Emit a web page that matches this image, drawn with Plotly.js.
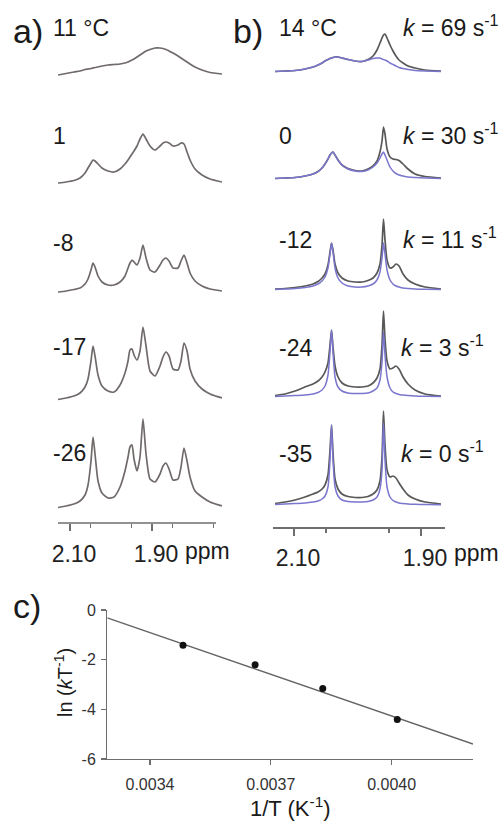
<!DOCTYPE html>
<html><head><meta charset="utf-8">
<script src="https://cdn.plot.ly/plotly-3.0.1.min.js"></script>
<style>html,body{margin:0;padding:0;background:#fff}#chart{width:500px;height:822px}</style>
</head><body><div id="chart"></div><script>
// ---------- Panel a : variable-temperature spectra (ppm) ----------
const ppmA = [2.1293,2.1098,2.0902,2.0756,2.0634,2.0561,2.0488,2.0439,2.0390,2.0317,2.0220,2.0073,1.9927,1.9780,1.9659,1.9585,1.9537,1.9488,1.9439,1.9366,1.9293,1.9220,1.9146,1.9049,1.8927,1.8805,1.8732,1.8659,1.8585,1.8488,1.8366,1.8293,1.8220,1.8146,1.8073,1.7951,1.7780,1.7585,1.7293];
const tempsA = ["11 °C","1","-8","-17","-26"];
const specA_11  = [1,2.5,4,5,6.5,7,7.5,8,8.5,9,10,11,11.5,12,13,14,15,16,17,19,21,23,25,26.5,28,28,27.5,26.5,25,23,20,18,16,14,12,9,6,3.5,2];
const specA_1   = [1,2,3.5,6,11,16,21,24,23,20,16,13,12,15,20,24,27,30,33,38,45,50,45,38,34,38,41,42,41,38,39,41,40,32,24,15,9,5,2];
const specA_m8  = [1,2,3.5,5,9,14,23,30,26,17,11,8,8,11,17,25,30,33,31,28,35,48,35,23,21,28,33,35,32,25,25,32,38,30,20,12,7,4,2];
const specA_m17 = [1.5,3,5,8,14,22,40,55,45,26,15,10,9,16,28,40,51,52,46,41,50,74,55,30,25,35,44,49,45,32,31,40,58,50,32,20,12,7,3];
const specA_m26 = [1.5,3,5,8,14,24,48,72,55,28,16,11,12,22,38,52,62,64,50,38,52,90,55,30,27,35,43,46,40,29,30,42,61,48,32,18,12,7,3];
const labelTicksA = [2.10,1.90];
const labelTextA = ["2.10","1.90"];
const plainTicksA = [2.00,1.80];
const minorTicksA = [2.05,1.95,1.85,1.75];

// ---------- Panel b : experimental (grey) vs simulated (blue) ----------
const ppmB = [2.1299,2.1142,2.0984,2.0827,2.0701,2.0622,2.0559,2.0512,2.0465,2.0433,2.0409,2.0386,2.0354,2.0307,2.0244,2.0150,2.0039,1.9929,1.9835,1.9756,1.9693,1.9646,1.9614,1.9591,1.9567,1.9535,1.9488,1.9441,1.9394,1.9346,1.9283,1.9205,1.9094,1.8937,1.8685];
const tempsB = ["14 °C","0","-12","-24","-35"];
const ratesB = ["69","30","11","3","0"];
const expB_14  = [0.5,1,1.5,3,5,7,9,11,12.5,13.5,14,14.5,15,15,14,12.5,11,10.5,12.5,16,22,29,34,37,38,34,27,21,16,12,9,6,4,2,1];
const simB_14  = [0.5,1,1.5,3,5,7,9,11,12.5,13.5,14,14.5,15,15,14,12.5,11,10.5,12,13.5,14,14,13,12.5,12,11,9,7.5,6,4.5,3.5,2.5,1.5,1,0.5];
const expB_0   = [0.5,1,1.5,3,5,7.5,11,15,20,24,26,27,24,19,14,10.5,8.5,8,10,13,18,27,38,52,45,30,22,20,19.5,18.5,15,10,5,2.5,1];
const simB_0   = [0.5,1,1.5,3,5,7.5,11,15,20,24,26,27,24,19,14,10,8,7.5,9,12,16,21,25,27,24,19,12,8,5.5,4,3,2,1.5,1,0.5];
const expB_m12 = [1,1.5,2.5,4,6,8.5,12,16,25,38,47,40,26,17,12,9,8,8,9.5,12,17,26,45,71,50,30,22,23,26,24,16,10,6,3,1];
const simB_m12 = [0.5,1,1.5,2.5,4,6,9,13,22,36,47,38,22,12,7,4,3,3,4,6,10,18,32,47,36,20,10,6,4,3,2,1.5,1,0.7,0.5];
const expB_m24 = [1.5,3,6,10,13,16,20,25,34,52,67,50,31,20,14,11,10,10,11,14,19,28,52,86,58,36,28,29,31,28,20,13,7,3,1];
const simB_m24 = [0.5,1,1.5,2,3,4.5,7,11,22,45,67,45,20,10,6,4,3.5,3.5,4,6,9,17,35,65,42,20,9,5,3.5,2.5,2,1.5,1,0.7,0.5];
const expB_m35 = [1.5,3,5,8,11,13,16,20,30,55,80,52,26,16,11,8.5,7.5,7.5,8.5,11,15,24,48,94,60,35,28,29,27,22,16,10,6,3,1];
const simB_m35 = [0.5,1,1.5,2,3,4,6,9,18,45,80,45,18,9,5,3.5,3,3,3.5,5,8,16,35,82,45,18,8,4.5,3,2,1.5,1,0.7,0.5,0.3];
const labelTicksB = [2.10,1.90];
const labelTextB = ["2.10","1.90"];
const plainTicksB = [2.00];
const minorTicksB = [2.05,1.95];

// ---------- Panel c : Eyring plot ----------
const invT = [0.003482,0.003661,0.003829,0.004014];
const lnkT = [-1.42,-2.20,-3.16,-4.41];
const fitX = [0.003294,0.004202];
const fitY = [-0.32,-5.40];
const tickValsCx = [0.0034,0.0037,0.0040];
const tickTextCx = ["0.0034","0.0037","0.0040"];
const tickValsCy = [0,-2,-4,-6];
const tickTextCy = ["0","-2","-4","-6"];

// ---------- build ----------
const W = 500, H = 822;
const px = v => v / W, py = v => 1 - v / H;
const FONT = "Liberation Sans, Arial, Helvetica, sans-serif";
const greyA = "rgb(112,106,106)", greyB = "rgb(88,88,88)", blue = "rgb(122,118,205)", axisGrey = "rgb(110,110,110)";
const baseA = [76,184,293,401,509];
const baseB = [72,179,290,397,505];
const labelYA = [28.5,136,243,347,452.5];
const labelYB = [28.5,136,240,348,454];

const traces = [];
const layout = {
  width: W, height: H, margin: {l:0,r:0,t:0,b:0}, paper_bgcolor: "#fff", plot_bgcolor: "rgba(0,0,0,0)",
  showlegend: false, hovermode: false, font: {family: FONT, color: "#222"},
  annotations: [], shapes: []
};
function rowAxis(base, anchor) {
  const top = Math.min(97, base - 1);
  return {domain: [py(base + 3), py(base - top)], range: [-3, top], visible: false, fixedrange: true, anchor: anchor};
}
const specA = [specA_11, specA_1, specA_m8, specA_m17, specA_m26];
specA.forEach((ys, i) => {
  const n = i + 1;
  traces.push({x: ppmA, y: ys, xaxis: "x", yaxis: "y" + (n === 1 ? "" : n), mode: "lines",
    line: {color: greyA, width: 1.7, shape: "spline", smoothing: 0.6}});
  layout["yaxis" + (n === 1 ? "" : n)] = rowAxis(baseA[i], "x");
});
const expB = [expB_14, expB_0, expB_m12, expB_m24, expB_m35];
const simB = [simB_14, simB_0, simB_m12, simB_m24, simB_m35];
expB.forEach((ys, i) => {
  const n = i + 6;
  traces.push({x: ppmB, y: ys, xaxis: "x2", yaxis: "y" + n, mode: "lines",
    line: {color: greyB, width: 1.7, shape: "spline", smoothing: 0.6}});
  traces.push({x: ppmB, y: simB[i], xaxis: "x2", yaxis: "y" + n, mode: "lines",
    line: {color: blue, width: 1.5, shape: "spline", smoothing: 0.6}});
  layout["yaxis" + n] = rowAxis(baseB[i], "x2");
});
traces.push({x: fitX, y: fitY, xaxis: "x3", yaxis: "y11", mode: "lines", line: {color: "rgb(100,100,100)", width: 1.4}});
traces.push({x: invT, y: lnkT, xaxis: "x3", yaxis: "y11", mode: "markers", marker: {color: "#111", size: 7}});

// labelled ppm axis (long labelled ticks + short minor ticks)
const ppmAxis = (dom, rng, pos, tv, tt, mv, line) => ({
  domain: dom, range: rng, anchor: "free", position: pos, showline: line, linecolor: axisGrey, linewidth: 1.6,
  ticks: "outside", ticklen: 7, tickwidth: 1.6, tickcolor: axisGrey, tickmode: "array", tickvals: tv, ticktext: tt,
  minor: {tickmode: "array", tickvals: mv, ticks: "outside", ticklen: 4, tickwidth: 1.6, tickcolor: axisGrey},
  showgrid: false, zeroline: false, fixedrange: true, tickfont: {size: 23, color: "#222", family: FONT},
  ticklabelshift: -4, ticklabelstandoff: 3
});
// overlay axis carrying the unlabelled long ticks
const plainAxis = (over, dom, rng, pos, tv) => ({
  overlaying: over, domain: dom, range: rng, anchor: "free", position: pos, showline: false,
  ticks: "outside", ticklen: 7, tickwidth: 1.6, tickcolor: axisGrey, tickmode: "array", tickvals: tv,
  showticklabels: false, showgrid: false, zeroline: false, fixedrange: true
});
const domA = [px(58), px(222)], rngA = [2.1293, 1.7293], posA = py(523);
const domB = [px(273), px(445)], rngB = [2.1331, 1.8622], posB = py(527);
layout.xaxis = ppmAxis(domA, rngA, posA, labelTicksA, labelTextA, minorTicksA, false);
layout.xaxis4 = plainAxis("x", domA, rngA, posA, plainTicksA);
layout.xaxis2 = ppmAxis(domB, rngB, posB, labelTicksB, labelTextB, minorTicksB, true);
layout.xaxis5 = plainAxis("x2", domB, rngB, posB, plainTicksB);
// panel a axis line ends short of the spectra
layout.shapes.push({type: "line", xref: "paper", yref: "paper", x0: px(58), x1: px(216), y0: posA, y1: posA,
  line: {color: axisGrey, width: 1.6}});

layout.xaxis3 = {domain: [px(107.3), px(473)], range: [0.003294, 0.004202], anchor: "y11", showline: true,
  linecolor: axisGrey, linewidth: 1.3, ticks: "outside", ticklen: 5, tickwidth: 1.3, tickcolor: axisGrey,
  tickmode: "array", tickvals: tickValsCx, ticktext: tickTextCx, showgrid: false, zeroline: false, fixedrange: true,
  tickfont: {size: 16, color: "#333", family: FONT}, ticklabelstandoff: 5};
layout.yaxis11 = {domain: [py(759), py(610)], range: [-6, 0], anchor: "x3", showline: true,
  linecolor: axisGrey, linewidth: 1.3, ticks: "outside", ticklen: 5, tickwidth: 1.3, tickcolor: axisGrey,
  tickmode: "array", tickvals: tickValsCy, ticktext: tickTextCy, showgrid: false, zeroline: false, fixedrange: true,
  tickfont: {size: 16, color: "#333", family: FONT}, ticklabelstandoff: 2};

const ann = (text, x, y, size, extra) => layout.annotations.push(Object.assign({
  text: text, xref: "paper", yref: "paper", x: px(x), y: py(y), xanchor: "left", yanchor: "middle",
  showarrow: false, font: {size: size, color: "#1a1a1a", family: FONT}}, extra || {}));
ann("a)", 11, 31, 34);
ann("b)", 231, 31, 34);
ann("c)", 11, 606, 34);
tempsA.forEach((t, i) => ann(t, 51, labelYA[i], 23));
tempsB.forEach((t, i) => ann(t, 277, labelYB[i], 23));
ratesB.forEach((r, i) => ann("<i>k</i> = " + r + " s<sup>-1</sup>", i < 3 ? 401 : 399, labelYB[i] - 2, 23));
ann("ppm", 183, 551, 23);
ann("ppm", 452, 553, 23);
ann("ln (<i>k</i>T<sup>-1</sup>)", 63, 683, 20, {xanchor: "center", textangle: -90});
ann("1/T (K<sup>-1</sup>)", 290, 807, 22, {xanchor: "center"});

Plotly.newPlot("chart", traces, layout, {displayModeBar: false, staticPlot: true});
</script></body></html>
